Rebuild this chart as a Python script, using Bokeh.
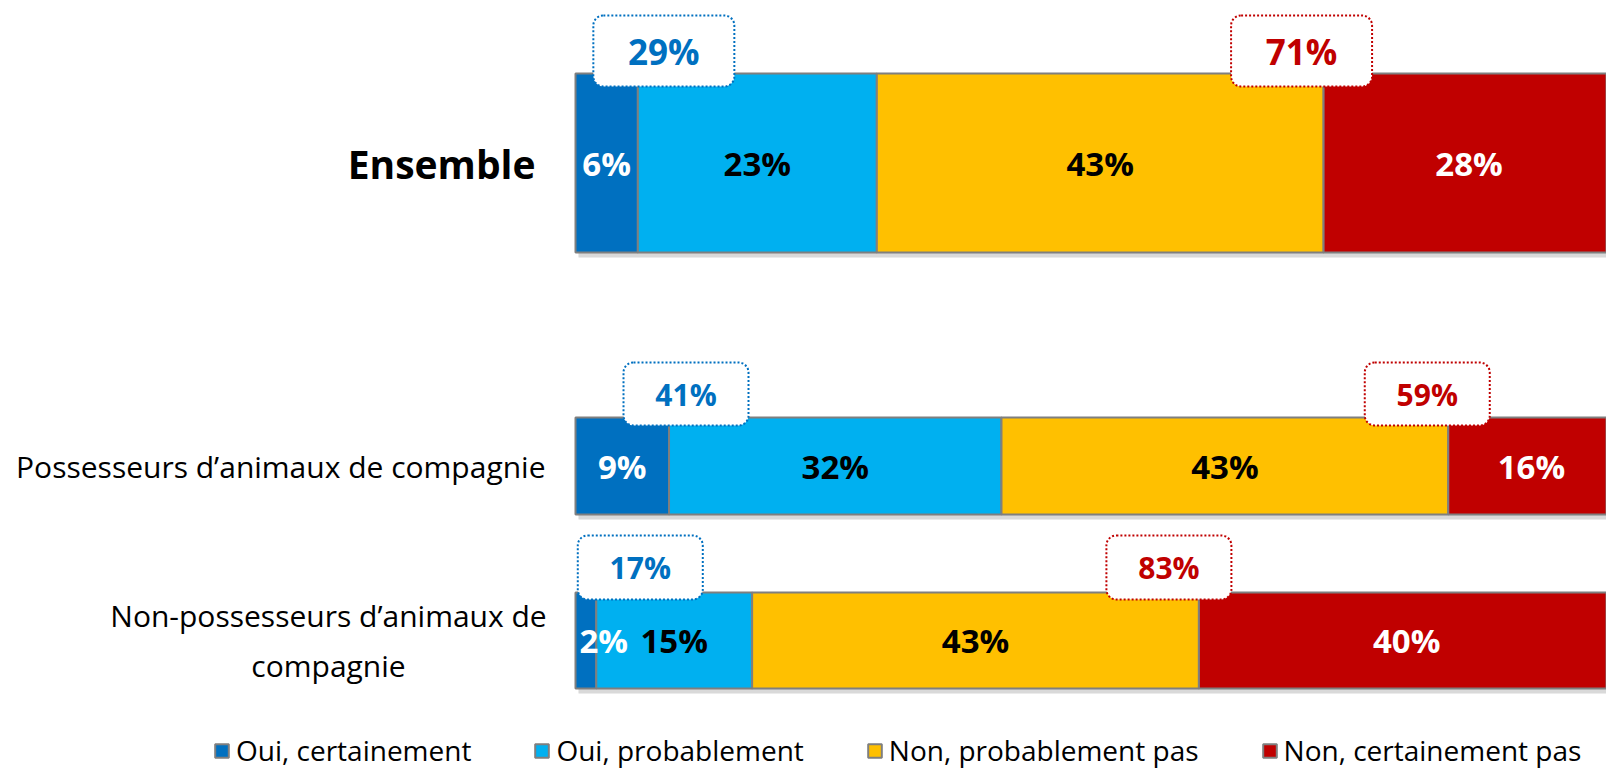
from bokeh.plotting import figure
from bokeh.models import Range1d, ColumnDataSource, Legend, LegendItem
from bokeh.core.properties import value
from bokeh.embed import file_html
from bokeh.resources import INLINE

# ---------------- data ----------------
groups = ["Ensemble",
          "Possesseurs d’animaux de compagnie",
          "Non-possesseurs d’animaux de\ncompagnie"]
series = ["Oui, certainement", "Oui, probablement",
          "Non, probablement pas", "Non, certainement pas"]
oui_certainement = [6, 9, 2]
oui_probablement = [23, 32, 15]
non_probablement_pas = [43, 43, 43]
non_certainement_pas = [28, 16, 40]
total_oui = [29, 41, 17]
total_non = [71, 59, 83]

# ---------------- style / layout ----------------
colors = ["#0070C0", "#00B0F0", "#FFC000", "#C00000"]
label_colors = ["white", "black", "black", "white"]
W, H = 1606, 769
X0 = 575.0      # pixel position of 0 %
PX = 10.39      # pixels per percent
row_y = [162.5, 465.5, 640.0]
row_h = [179, 97, 96]
FONT = "Open Sans"

def px(d):
    return d / PX

p = figure(width=W, height=H, output_backend="svg", toolbar_location=None,
           x_range=Range1d(-X0 / PX, (W - X0) / PX), y_range=Range1d(H, 0),
           x_axis_type=None, y_axis_type=None, min_border=0,
           outline_line_color=None, background_fill_color="white")
p.xgrid.visible = False
p.ygrid.visible = False

values = [oui_certainement, oui_probablement, non_probablement_pas, non_certainement_pas]
n = len(groups)
tops = [row_y[i] - row_h[i] / 2 for i in range(n)]
bottoms = [row_y[i] + row_h[i] / 2 for i in range(n)]
totals = [sum(v[i] for v in values) for i in range(n)]

# shadow
p.quad(left=[px(3)] * n, right=[t + px(3) for t in totals],
       top=[t + 4 for t in tops], bottom=[b + 5 for b in bottoms],
       fill_color="#bfbfbf", fill_alpha=0.6, line_color=None)

renderers = []
cum = [0.0] * n
label_x, label_t, label_c, label_a = [], [], [], []
label_y = []
for s, vals in enumerate(values):
    left = cum[:]
    right = [cum[i] + vals[i] for i in range(n)]
    src = ColumnDataSource(dict(y=row_y, h=row_h, left=left, right=right))
    r = p.hbar(y="y", height="h", left="left", right="right", source=src,
               fill_color=colors[s], line_color="#7f7f7f", line_width=2)
    renderers.append(r)
    for i in range(n):
        if vals[i] < 4:
            label_x.append(left[i] + px(4))
            label_a.append("left")
        else:
            label_x.append((left[i] + right[i]) / 2)
            label_a.append("center")
        label_y.append(row_y[i])
        label_t.append(f"{vals[i]}%")
        label_c.append(label_colors[s])
    cum = right

p.text(x="x", y="y", text="t", text_color="c", text_align="a",
       source=ColumnDataSource(dict(x=label_x, y=label_y, t=label_t, c=label_c, a=label_a)),
       text_baseline="middle", text_font=value(FONT), text_font_style="bold",
       text_font_size=value("33px"))

# summary boxes
box_w = [141, 125, 125]
box_h = [71, 63, 64]
box_overlap = [13, 8, 7]
off_oui = [26, 17, 44]
off_non = [-22, -21, -30]
box_fs = ["35px", "30px", "30px"]

oui_cx = [oui_certainement[i] + px(off_oui[i]) for i in range(n)]
non_cx = [oui_certainement[i] + oui_probablement[i] + non_probablement_pas[i] + px(off_non[i])
          for i in range(n)]
box_bottom = [tops[i] + box_overlap[i] for i in range(n)]
box_top = [box_bottom[i] - box_h[i] for i in range(n)]
box_cy = [(box_top[i] + box_bottom[i]) / 2 for i in range(n)]

for cx, tot, col in [(oui_cx, total_oui, "#0070C0"), (non_cx, total_non, "#C00000")]:
    p.quad(left=[c - px(box_w[i] / 2) for i, c in enumerate(cx)],
           right=[c + px(box_w[i] / 2) for i, c in enumerate(cx)],
           top=box_top, bottom=box_bottom, fill_color="white",
           line_color=col, line_width=2, line_dash="2 2", border_radius=10)
    p.text(x="x", y="y", text="t", text_font_size="fs",
           source=ColumnDataSource(dict(x=cx, y=box_cy, t=[f"{v}%" for v in tot], fs=box_fs)),
           text_color=col, text_align="center", text_baseline="middle",
           text_font=value(FONT), text_font_style="bold")

# category labels
cat_anchor = [535, 545, 328]
cat_align = ["right", "right", "center"]
cat_style = ["bold", "normal", "normal"]
cat_fs = ["39px", "30px", "30px"]
for i in range(n):
    p.text(x=[px(cat_anchor[i] - X0)], y=[row_y[i]], text=[groups[i]],
           text_align=cat_align[i], text_baseline="middle",
           text_font=value(FONT), text_font_style=cat_style[i],
           text_font_size=value(cat_fs[i]), text_color="black", text_line_height=1.2)

legend = Legend(items=[LegendItem(label=series[s], renderers=[renderers[s]]) for s in range(4)],
                orientation="horizontal", location=(213, 0),
                label_text_font=FONT, label_text_font_size="28px", label_text_color="black",
                glyph_width=17, glyph_height=17, label_standoff=6, spacing=62,
                padding=0, margin=0, border_line_color=None, background_fill_alpha=0,
                label_height=22)
p.add_layout(legend)

open("out.html", "w").write(file_html(p, INLINE))
